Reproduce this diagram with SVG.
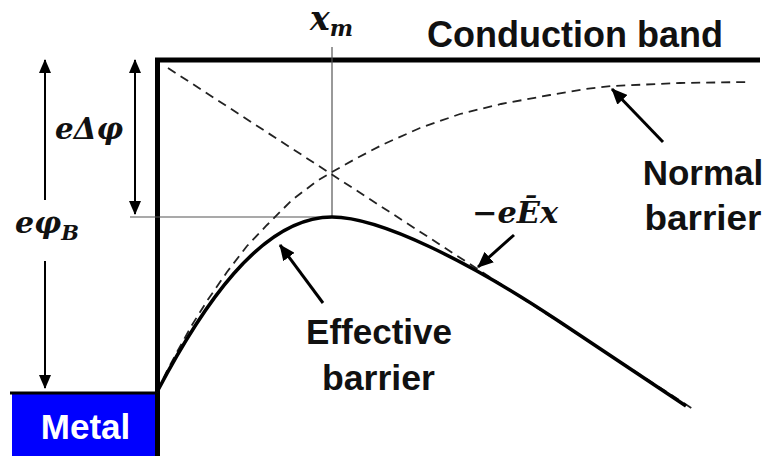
<svg xmlns="http://www.w3.org/2000/svg" width="768" height="456" viewBox="0 0 768 456">
<style>
.lbl{font-family:"Liberation Sans",Arial,sans-serif;font-weight:bold;fill:#111;}
.math{font-family:"DejaVu Serif","Liberation Serif",serif;font-weight:bold;font-style:italic;fill:#111;}
.thick{fill:none;stroke:#000;stroke-width:5;}
.thin{fill:none;stroke:#555;stroke-width:1.2;}
.dash{fill:none;stroke:#222;stroke-width:1.8;stroke-dasharray:9 6;}
.arrow{fill:none;stroke:#000;stroke-width:2;}
.parrow{fill:none;stroke:#000;stroke-width:3;}
</style>
<defs>
<marker id="ah" markerUnits="userSpaceOnUse" markerWidth="14" markerHeight="12" refX="13" refY="6" orient="auto-start-reverse" viewBox="0 0 14 12">
<path d="M0,0 L14,6 L0,12 Z" fill="#000"/>
</marker>
<marker id="ah2" markerUnits="userSpaceOnUse" markerWidth="16" markerHeight="14" refX="15" refY="7" orient="auto" viewBox="0 0 16 14">
<path d="M0,0 L16,7 L0,14 Z" fill="#000"/>
</marker>
</defs>

<g id="metal">
<rect x="12" y="394" width="145" height="62" fill="#0000FF"/>
<line x1="10" y1="393" x2="158" y2="393" stroke="#000" stroke-width="3"/>
<text class="lbl" x="85.5" y="439" font-size="35" text-anchor="middle" style="fill:#fff">Metal</text>
</g>

<g id="conduction-band">
<path class="thick" d="M157.5,456 L157.5,60 L760,60"/>
<text class="lbl" x="427" y="47" font-size="36" textLength="296" lengthAdjust="spacingAndGlyphs">Conduction band</text>
</g>

<g id="guides">
<line class="thin" x1="332" y1="47" x2="332" y2="217"/>
<line class="thin" x1="130" y1="217" x2="332" y2="217"/>
</g>

<g id="xm-label">
<text class="math" x="310" y="30" font-size="33">x<tspan font-size="22" dy="6">m</tspan></text>
</g>

<g id="field-line">
<line class="dash" x1="168" y1="68" x2="696" y2="411"/>
<text class="math" x="472" y="223" font-size="29" textLength="86" lengthAdjust="spacingAndGlyphs">−eĒx</text>
</g>

<g id="normal-barrier">
<polyline class="dash" points="157,392 167,371 177,352 192,325 207,301 227,272 247,246 267,225 292,200 317,181 332,172 357,158 384,144 420,128 460,114 501,104 550,95 585,89 612,86 680,83 748,82"/>
<text class="lbl" x="703" y="185" font-size="35" text-anchor="middle">Normal</text>
<text class="lbl" x="703" y="230" font-size="35" text-anchor="middle" textLength="117" lengthAdjust="spacingAndGlyphs">barrier</text>
</g>

<g id="effective-barrier">
<path fill="none" stroke="#000" stroke-width="3.5" d="M157,392 C200,310 260,217 332,217 C380,217 470,262 560,322 L686,406"/>
<text class="lbl" x="379" y="344" font-size="35" text-anchor="middle">Effective</text>
<text class="lbl" x="378.5" y="390" font-size="35" text-anchor="middle" textLength="113" lengthAdjust="spacingAndGlyphs">barrier</text>
</g>

<g id="phiB-label">
<text class="math" x="15" y="233" font-size="30">eφ<tspan font-size="21" dy="7">B</tspan></text>
</g>

<g id="dphi-label">
<text class="math" x="55" y="139" font-size="30" textLength="68" lengthAdjust="spacingAndGlyphs">eΔφ</text>
</g>

<g id="connectors">
<line class="arrow" x1="45" y1="200" x2="45" y2="60" marker-end="url(#ah)"/>
<line class="arrow" x1="45" y1="261" x2="45" y2="388" marker-end="url(#ah)"/>
<line class="arrow" x1="135" y1="60" x2="135" y2="214" marker-start="url(#ah)" marker-end="url(#ah)"/>
<line class="parrow" x1="663" y1="142" x2="612" y2="89" marker-end="url(#ah2)"/>
<line class="parrow" x1="514" y1="235" x2="478" y2="267" marker-end="url(#ah2)"/>
<line class="parrow" x1="323" y1="303" x2="280" y2="245" marker-end="url(#ah2)"/>
</g>
</svg>
